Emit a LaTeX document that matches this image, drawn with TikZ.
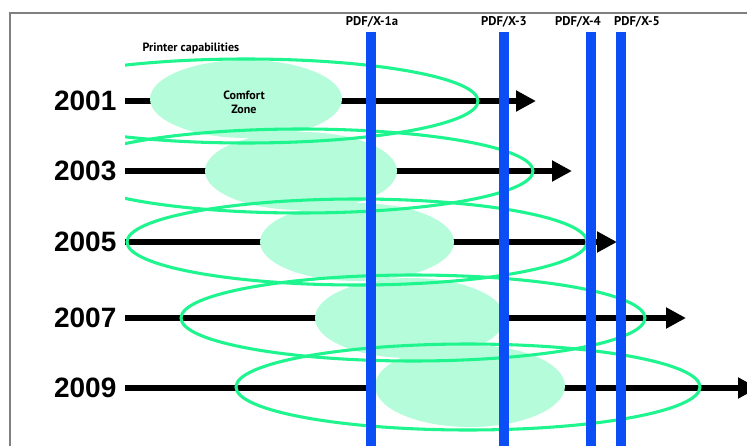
\documentclass[tikz,border=0pt]{standalone}
\usepackage{fontspec}
\setmainfont{Liberation Sans}
\newfontfamily\labelfont{PT Sans}
\usetikzlibrary{arrows.meta}

\definecolor{barblue}{RGB}{12,78,245}
\definecolor{zonegreen}{RGB}{180,252,218}
\definecolor{capgreen}{RGB}{30,245,142}

\tikzset{
  every picture/.style={line width=0.9pt},
  year/.style={anchor=east,inner sep=0pt,font=\fontsize{21}{21}\selectfont\bfseries},
  timeline/.style={line width=4.5pt,-{Triangle[length=15pt,width=15pt]}},
  zone/.style={fill=zonegreen,draw=none},
  capring/.style={draw=capgreen,line width=2.3pt},
  pdfbar/.style={draw=barblue,line width=7.5pt},
  barlabel/.style={inner sep=0pt,font=\labelfont\fontsize{9.5}{10}\selectfont\bfseries},
  smalltext/.style={inner sep=0pt,align=center,font=\labelfont\fontsize{9}{10.5}\selectfont\bfseries}
}

\begin{document}
\begin{tikzpicture}[x=0.75pt,y=0.75pt,yscale=-1,xscale=1]
\useasboundingbox (0,0) rectangle (747,446);

%Frame
\draw [gray,line width=1pt] (10,446) -- (10,13) -- (747,13) ;

% Text Node
\draw (117,101) node [year] (y1) {2001};
% Text Node
\draw (117,171) node [year] (y2) {2003};
% Text Node
\draw (117,242) node [year] (y3) {2005};
% Text Node
\draw (117,318) node [year] (y4) {2007};
% Text Node
\draw (117,388) node [year] (y5) {2009};

%Arrows
\coordinate (s1) at (125,101) ; \coordinate (e1) at (536,101) ;
\coordinate (s2) at (125,171) ; \coordinate (e2) at (572,171) ;
\coordinate (s3) at (125,242) ; \coordinate (e3) at (617,242) ;
\coordinate (s4) at (125,318) ; \coordinate (e4) at (686,318) ;
\coordinate (s5) at (125,388) ; \coordinate (e5) at (758,388) ;
\foreach \i in {1,...,5}
  \draw [timeline] (s\i) -- (e\i) ;

%Comfort zones
\draw [zone] (246,99) ellipse (96 and 39) ;
\draw [zone] (301,171) ellipse (96 and 39) ;
\draw [zone] (357,242) ellipse (97 and 39) ;
\draw [zone] (410,318) ellipse (95 and 40) ;
\draw [zone] (470,386) ellipse (95 and 41) ;

%Printer capabilities
\begin{scope}
\clip (125,0) rectangle (747,446) ;
\draw [capring] (246,101) ellipse (232 and 42) ;
\draw [capring] (301,171) ellipse (232 and 42) ;
\draw [capring] (357,242) ellipse (230 and 43) ;
\draw [capring] (413,318) ellipse (232 and 43) ;
\draw [capring] (468,387) ellipse (232 and 43) ;
\end{scope}

%PDF/X bars
\draw [pdfbar] (371,32) -- (371,446) ;
\draw [pdfbar] (504,32) -- (504,446) ;
\draw [pdfbar] (591,32) -- (591,446) ;
\draw [pdfbar] (621,32) -- (621,446) ;

% Text Node
\draw (372,22) node [barlabel] (x1a) {PDF/X-1a};
% Text Node
\draw (504,22) node [barlabel] (x3) {PDF/X-3};
% Text Node
\draw (578,22) node [barlabel] (x4) {PDF/X-4};
% Text Node
\draw (637,22) node [barlabel] (x5) {PDF/X-5};
% Text Node
\draw (191,48) node [smalltext] (pc) {Printer capabilities};
% Text Node
\draw (244,102) node [smalltext] (cz) {Comfort\\Zone};

\end{tikzpicture}
\end{document}
